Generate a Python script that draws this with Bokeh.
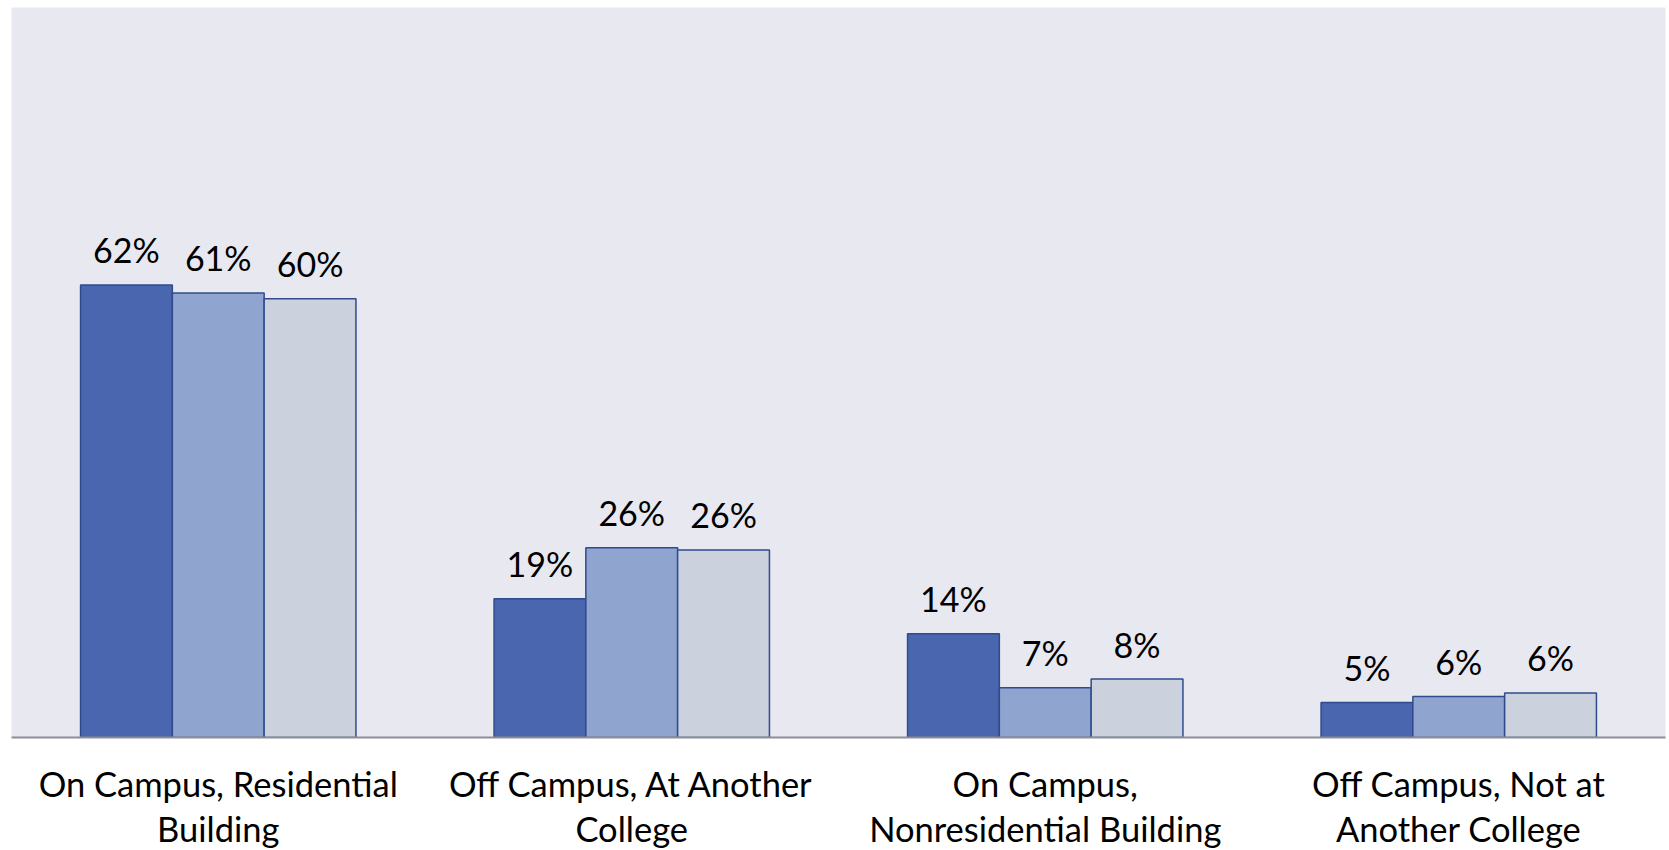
from bokeh.plotting import figure
from bokeh.models import ColumnDataSource, FactorRange
from bokeh.transform import dodge
from bokeh.embed import file_html
from bokeh.resources import INLINE
from bokeh.core.properties import value

categories = [
    "On Campus, Residential\nBuilding",
    "Off Campus, At Another\nCollege",
    "On Campus,\nNonresidential Building",
    "Off Campus, Not at\nAnother College",
]
series_a = [62.0, 19.0, 14.2, 4.8]
series_b = [60.9, 26.0, 6.8, 5.6]
series_c = [60.1, 25.7, 8.0, 6.1]

colors = ["#4A66AE", "#90A4D0", "#CBD2DE"]
FONT = "Lato"

src = ColumnDataSource(dict(
    cat=categories,
    a=series_a, b=series_b, c=series_c,
    la=[f"{round(v)}%" for v in series_a],
    lb=[f"{round(v)}%" for v in series_b],
    lc=[f"{round(v)}%" for v in series_c],
))

p = figure(x_range=FactorRange(*categories, range_padding=0), y_range=(0, 100),
           frame_width=1654, frame_height=730, output_backend="svg", toolbar_location=None,
           min_border_left=11, min_border_right=4, min_border_top=7, min_border_bottom=113)
p.background_fill_color = "#E8E8F1"
p.border_fill_color = "white"
p.outline_line_color = None
p.grid.grid_line_color = None
p.yaxis.visible = False

w = 0.222
for off, col, key, lab in [(-w, colors[0], "a", "la"), (0, colors[1], "b", "lb"), (w, colors[2], "c", "lc")]:
    p.vbar(x=dodge("cat", off, range=p.x_range), top=key, width=w, bottom=0, source=src,
           fill_color=col, line_color="#2F4B8C", line_width=1.5)
    p.text(x=dodge("cat", off, range=p.x_range), y=key, text=lab, source=src,
           text_align="center", text_baseline="alphabetic", y_offset=-35,
           text_font=value(FONT), text_font_size="34px", text_color="black")

ax = p.xaxis[0]
ax.axis_line_color = "#8E8E96"
ax.axis_line_width = 2
ax.major_tick_line_color = None
ax.minor_tick_line_color = None
ax.major_tick_out = 0
ax.major_tick_in = 0
ax.major_label_standoff = 25
ax.major_label_text_font = FONT
ax.major_label_text_font_size = "34.5px"
ax.major_label_text_color = "black"
ax.major_label_text_line_height = 1.12

open("out.html", "w").write(file_html(p, INLINE))
